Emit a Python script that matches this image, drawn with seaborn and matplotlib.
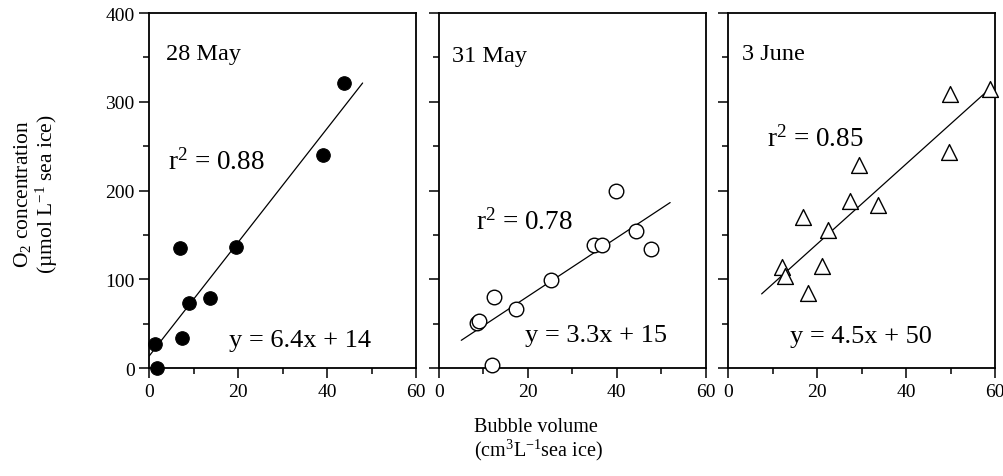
import numpy as np
import pandas as pd
import seaborn as sns
import matplotlib.pyplot as plt

# 28 May (filled circles)
may28_x = [1.3, 1.8, 6.8, 7.3, 9.0, 13.7, 19.5, 39.1, 43.8]
may28_y = [27, 0, 136, 34, 73, 79, 137, 240, 321]

# 31 May (open circles)
may31_x = [8.5, 8.9, 12.0, 12.4, 17.3, 25.2, 34.8, 36.6, 39.9, 44.4, 47.7]
may31_y = [51, 53, 4, 80, 67, 99, 139, 139, 200, 155, 134]

# 3 June (open triangles)
jun3_x = [12.1, 12.8, 16.7, 18.0, 21.1, 22.5, 27.4, 29.5, 33.6, 49.7, 49.9, 58.9]
jun3_y = [114, 104, 170, 85, 115, 156, 188, 229, 184, 244, 309, 314]

dates = ['28 May', '31 May', '3 June']
r2_labels = ['0.88', '0.78', '0.85']
slopes = [6.4, 3.3, 4.5]
intercepts = [14, 15, 50]
line_ranges = [(0, 48), (5, 52), (7.5, 59)]

sns.set_style('ticks')
plt.rcParams['font.family'] = ['Liberation Serif', 'DejaVu Serif']
plt.rcParams['mathtext.fontset'] = 'custom'
plt.rcParams['mathtext.rm'] = 'Liberation Serif'
plt.rcParams['mathtext.it'] = 'Liberation Serif:italic'
plt.rcParams['text.color'] = 'black'
plt.rcParams['axes.linewidth'] = 1.3
for k in ['xtick.major.width', 'ytick.major.width', 'xtick.minor.width', 'ytick.minor.width']:
    plt.rcParams[k] = 1.1

fig = plt.figure(figsize=(10.04, 4.77), dpi=100)
lefts = [0.1487, 0.4373, 0.7254]
axes = [fig.add_axes([l, 0.2258, 0.2656, 0.7448]) for l in lefts]

data = [(may28_x, may28_y), (may31_x, may31_y), (jun3_x, jun3_y)]
styles = [dict(marker='o', color='black', edgecolor='black', s=95),
          dict(marker='o', color='white', edgecolor='black', s=110, linewidth=1),
          dict(marker='^', color='white', edgecolor='black', s=130, linewidth=1)]

date_pos = [(0.063, 0.87), (0.05, 0.866), (0.05, 0.87)]
r2_pos = [(0.07, 0.563), (0.14, 0.394), (0.144, 0.627)]
eq_pos = [(0.299, 0.064), (0.323, 0.078), (0.231, 0.073)]

for i, ax in enumerate(axes):
    xs, ys = data[i]
    df = pd.DataFrame({'x': xs, 'y': ys})
    lx = np.array(line_ranges[i])
    ax.plot(lx, slopes[i] * lx + intercepts[i], color='black', lw=0.9, zorder=1)
    sns.scatterplot(data=df, x='x', y='y', ax=ax, zorder=3, clip_on=False, **styles[i])

    ax.set_xlim(0, 60)
    ax.set_ylim(0, 400)
    ax.set_xticks([0, 20, 40, 60])
    ax.set_xticks([10, 30, 50], minor=True)
    ax.set_yticks([0, 100, 200, 300, 400])
    ax.set_yticks([50, 150, 250, 350], minor=True)
    ax.tick_params(which='both', colors='black')
    ax.tick_params(which='major', direction='out', length=7, labelsize=14)
    ax.tick_params(which='minor', direction='out', length=4)
    ax.set_xlabel('')
    ax.set_ylabel('')
    for sp in ax.spines.values():
        sp.set_visible(True)
        sp.set_color('black')
    if i > 0:
        ax.set_yticklabels([])

    ax.text(*date_pos[i], dates[i], transform=ax.transAxes, fontsize=17.5, va='baseline')
    ax.text(*r2_pos[i], 'r$^{2}$ = ' + r2_labels[i], transform=ax.transAxes,
            fontsize=19.5, va='baseline')
    eq = 'y = {}x + {}'.format(slopes[i], intercepts[i])
    ax.text(*eq_pos[i], eq, transform=ax.transAxes, fontsize=19, va='baseline')

# axis labels
fig.text(23 / 1004, 1 - 194 / 477, 'O$_2$ concentration', rotation=90,
         ha='center', va='center', fontsize=15.5)
fig.text(47 / 1004, 1 - 194 / 477, '(µmol L$^{-1}$ sea ice)', rotation=90,
         ha='center', va='center', fontsize=15.5)
fig.text(536 / 1004, 1 - 432 / 477, 'Bubble volume', ha='center',
         va='baseline', fontsize=14.5)
fig.text(538 / 1004, 1 - 456 / 477, '(cm$^3$L$^{-1}$sea ice)', ha='center',
         va='baseline', fontsize=14.5)

fig.savefig('out.png', dpi=100)
